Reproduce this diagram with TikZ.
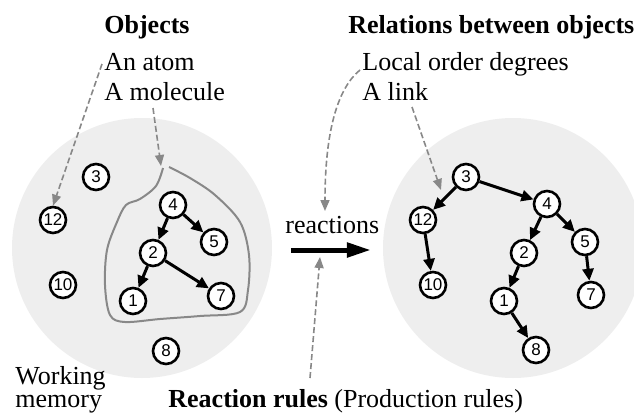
\documentclass[tikz,border=0pt]{standalone}
\usepackage{fontspec}
\setmainfont{Liberation Serif}
\newfontfamily\numfont{Liberation Sans}
\usetikzlibrary{arrows.meta}
\definecolor{memgray}{HTML}{EEEEEE}
\definecolor{hintgray}{HTML}{888888}
\tikzset{
  atom/.style={draw, circle, fill=white, line width=1.3pt, minimum size=13pt, inner sep=0pt, font=\numfont\fontsize{8.5}{9}\selectfont},
  bond/.style={line width=1.5pt, -{Triangle[length=6pt,width=5.5pt]}},
  hint/.style={draw=hintgray, line width=0.8pt, dash pattern=on 3pt off 1.5pt, -{Triangle[length=5.5pt,width=4.5pt]}},
  txt/.style={font=\fontsize{13}{15}\selectfont, inner sep=0pt, anchor=base west}
}
\begin{document}
\begin{tikzpicture}[x=0.5pt,y=-0.5pt]
\clip (0,0) rectangle (634,414);
% working memories
\fill[memgray] (142,248) circle [radius=65pt];
\fill[memgray] (513,248) circle [radius=65pt];
% titles
\node[txt] (objects) at (104,33) {\bfseries Objects};
\node[txt] (atomtxt) at (104,70) {An atom};
\node[txt] (moltxt) at (104,100) {A molecule};
\node[txt] (relations) at (348,33) {\bfseries Relations between objects};
\node[txt] (localtxt) at (362,70) {Local order degrees};
\node[txt] (linktxt) at (362,100) {A link};
\node[txt] (working) at (15,384) {Working};
\node[txt] (memory) at (15,407) {memory};
\node[txt] (rules) at (168,407) {\textbf{Reaction rules} (Production rules)};
\node[txt] (rxn) at (285,233) {reactions};
% molecule outline
\draw[hintgray, line width=1pt] plot[smooth, tension=0.55] coordinates {(163,168) (156,186) (140,199) (126,205) (117,222) (107,250) (105,285) (110,315) (125,322) (160,319) (200,316) (240,312) (248,290) (249,255) (240,222) (215,195) (190,178) (169,167)};
% left: working memory
\node[atom] (a3) at (96,177) {3};
\node[atom] (a12) at (53,220) {12};
\node[atom] (a10) at (63,285) {10};
\node[atom] (a4) at (173,205) {4};
\node[atom] (a5) at (214,242) {5};
\node[atom] (a2) at (153,253) {2};
\node[atom] (a1) at (133,301) {1};
\node[atom] (a7) at (221,296) {7};
\node[atom] (a8) at (166,351) {8};
\draw[bond] (a4) -- (a2);
\draw[bond] (a4) -- (a5);
\draw[bond] (a2) -- (a1);
\draw[bond] (a2) -- (a7);
% right: after reactions
\node[atom] (b3) at (466,177) {3};
\node[atom] (b4) at (547,204) {4};
\node[atom] (b12) at (423,220) {12};
\node[atom] (b10) at (433,285) {10};
\node[atom] (b5) at (585,242) {5};
\node[atom] (b2) at (524,253) {2};
\node[atom] (b1) at (504,301) {1};
\node[atom] (b7) at (591,295) {7};
\node[atom] (b8) at (536,350) {8};
\draw[bond] (b3) -- (b12);
\draw[bond] (b3) -- (b4);
\draw[bond] (b4) -- (b2);
\draw[bond] (b4) -- (b5);
\draw[bond] (b12) -- (b10);
\draw[bond] (b2) -- (b1);
\draw[bond] (b5) -- (b7);
\draw[bond] (b1) -- (b8);
% reaction arrow
\coordinate (rxnL) at (291,250);
\coordinate (rxnR) at (371,250);
\draw[line width=2.5pt, -{Triangle[length=12pt,width=7pt]}] (rxnL) -- (rxnR);
% pointers
\coordinate (atomTail) at (102,64);
\coordinate (molTail) at (153,108);
\coordinate (cusp) at (161,166);
\coordinate (localTail) at (360,70);
\coordinate (rxnTop) at (325,211);
\coordinate (linkTail) at (412,107);
\coordinate (linkHead) at (441,190);
\coordinate (ruleTail) at (310,378);
\coordinate (rxnBot) at (320,257);
\draw[hint] (atomTail) -- (a12.north);
\draw[hint] (molTail) -- (cusp);
\draw[hint] (localTail) .. controls (338,88) and (325,130) .. (rxnTop);
\draw[hint] (linkTail) -- (linkHead);
\draw[hint] (ruleTail) -- (rxnBot);
\end{tikzpicture}
\end{document}
